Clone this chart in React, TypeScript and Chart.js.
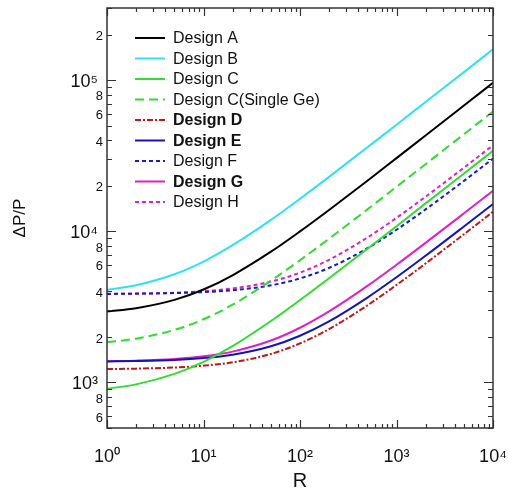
import React, { useEffect, useRef } from 'react';
import { Chart, registerables } from 'chart.js';

Chart.register(...registerables);

// R values (x) sampled along each curve
const R = [1, 2, 5, 10, 20, 50, 100, 200, 500, 1000, 2000, 5000, 10000];

// ΔP/P values
const designA = [2950, 3100, 3520, 4120, 5120, 7330, 9990, 13850, 21600, 30500, 43000, 67900, 96000];
const designB = [4100, 4400, 5200, 6310, 8090, 11900, 16400, 22900, 36000, 50700, 71700, 113000, 160000];
const designC = [910, 972, 1140, 1370, 1740, 2550, 3510, 4890, 7660, 10800, 15300, 24100, 34100];
const designCSingle = [1850, 1950, 2230, 2620, 3270, 4720, 6440, 8940, 13970, 19700, 27800, 43900, 62000];
const designD = [1227, 1235, 1256, 1292, 1359, 1545, 1813, 2256, 3240, 4415, 6120, 9565, 13470];
const designE = [1378, 1387, 1411, 1451, 1527, 1737, 2039, 2537, 3644, 4968, 6891, 10770, 15160];
const designF = [3850, 3870, 3905, 3962, 4074, 4393, 4879, 5727, 7730, 10240, 13960, 21560, 30250];
const designG = [1382, 1395, 1431, 1490, 1600, 1894, 2302, 2952, 4356, 6006, 8383, 13150, 18550];
const designH = [3860, 3872, 3920, 4020, 4190, 4650, 5330, 6480, 9100, 12280, 16940, 26360, 37080];

const seriesLabels = ['Design A', 'Design B', 'Design C', 'Design C(Single Ge)', 'Design D', 'Design E', 'Design F', 'Design G', 'Design H'];
const seriesBold = [false, false, false, false, true, true, false, true, false];

const xTickValues = [1, 10, 100, 1000, 10000];
const xTickLabels = ['10⁰', '10¹', '10²', '10³', '10⁴'];
const yTickValues = [600, 800, 1000, 2000, 4000, 6000, 8000, 10000, 20000, 40000, 60000, 80000, 100000, 200000];
const yTickLabels = ['6', '8', '10³ ', '2', '4', '6', '8', '10⁴ ', '2', '4', '6', '8', '10⁵ ', '2'];

const FAMILY = '"Liberation Sans", Arial, Helvetica, sans-serif';

export default function App() {
  const ref = useRef<HTMLCanvasElement>(null);

  useEffect(() => {
    const canvas = ref.current;
    if (!canvas) return;

    const styles = [
      { color: '#000000', dash: [] as number[] },
      { color: '#30E2F0', dash: [] },
      { color: '#30DC30', dash: [] },
      { color: '#30DC30', dash: [9, 5] },
      { color: '#C01818', dash: [6, 2, 2, 2] },
      { color: '#1414B8', dash: [] },
      { color: '#1A1AC8', dash: [4, 3] },
      { color: '#E020C0', dash: [] },
      { color: '#E020C0', dash: [4, 3] },
    ];
    const values = [designA, designB, designC, designCSingle, designD, designE, designF, designG, designH];

    const datasets = values.map((vals, i) => ({
      label: seriesLabels[i],
      data: R.map((r, j) => ({ x: r, y: vals[j] })),
      borderColor: styles[i].color,
      backgroundColor: styles[i].color,
      borderDash: styles[i].dash,
      borderWidth: 2,
      pointRadius: 0,
      fill: false,
      cubicInterpolationMode: 'monotone' as const,
    }));

    const framePlugin = {
      id: 'frameTicksLegend',
      afterDraw(chart: any) {
        const { ctx, chartArea: a, scales } = chart;
        const xs = scales.x;
        const ys = scales.y;
        ctx.save();
        // box
        ctx.strokeStyle = '#333333';
        ctx.lineWidth = 1.5;
        ctx.setLineDash([]);
        ctx.strokeRect(a.left, a.top, a.right - a.left, a.bottom - a.top);
        // ticks (inward, mirrored)
        ctx.lineWidth = 1.2;
        ctx.beginPath();
        for (let e = 0; e <= 4; e++) {
          for (let m = 1; m <= 9; m++) {
            const v = m * Math.pow(10, e);
            if (v > 10000) break;
            const px = Math.round(xs.getPixelForValue(v)) + 0.5;
            const len = m === 1 ? 8 : 4;
            ctx.moveTo(px, a.bottom);
            ctx.lineTo(px, a.bottom - len);
            ctx.moveTo(px, a.top);
            ctx.lineTo(px, a.top + len);
          }
        }
        for (let e = 2; e <= 5; e++) {
          for (let m = 1; m <= 9; m++) {
            const v = m * Math.pow(10, e);
            if (v < 500 || v > 300000) continue;
            const py = Math.round(ys.getPixelForValue(v)) + 0.5;
            const len = m === 1 ? 9 : 5;
            ctx.moveTo(a.left, py);
            ctx.lineTo(a.left + len, py);
            ctx.moveTo(a.right, py);
            ctx.lineTo(a.right - len, py);
          }
        }
        ctx.stroke();

        // legend
        const x0 = a.left + 28;
        const lineLen = 30;
        const y0 = a.top + 30;
        const step = 20.5;
        chart.data.datasets.forEach((ds: any, i: number) => {
          const y = y0 + i * step;
          ctx.strokeStyle = ds.borderColor;
          ctx.lineWidth = 2;
          ctx.setLineDash(ds.borderDash || []);
          ctx.beginPath();
          ctx.moveTo(x0, y);
          ctx.lineTo(x0 + lineLen, y);
          ctx.stroke();
          ctx.setLineDash([]);
          ctx.fillStyle = '#111111';
          ctx.font = (seriesBold[i] ? 'bold ' : '') + '16px ' + FAMILY;
          ctx.textBaseline = 'middle';
          ctx.textAlign = 'left';
          ctx.fillText(ds.label, x0 + lineLen + 8, y + 1);
        });
        ctx.restore();
      },
    };

    const chart = new Chart(canvas, {
      type: 'line',
      data: { datasets },
      options: {
        animation: false,
        responsive: false,
        devicePixelRatio: 1,
        layout: { padding: { top: 8, right: 16, left: 0, bottom: 0 } },
        plugins: { legend: { display: false }, tooltip: { enabled: false } },
        scales: {
          x: {
            type: 'logarithmic',
            position: 'bottom',
            min: 1,
            max: 10000,
            grid: { display: false, drawTicks: false },
            border: { display: false },
            afterBuildTicks: (s: any) => {
              s.ticks = xTickValues.map((v) => ({ value: v }));
            },
            afterFit: (s: any) => {
              s.height = 65;
              s.paddingLeft = 0;
              s.paddingRight = 0;
            },
            ticks: {
              autoSkip: false,
              maxRotation: 0,
              minRotation: 0,
              padding: 18,
              color: '#111111',
              font: { size: 18, family: FAMILY },
              callback: (_v: any, i: number) => xTickLabels[i],
            },
            title: {
              display: true,
              text: 'R',
              color: '#111111',
              font: { size: 20, family: FAMILY },
              padding: { top: 0, bottom: 0 },
            },
          },
          y: {
            type: 'logarithmic',
            position: 'left',
            min: 500,
            max: 300000,
            grid: { display: false, drawTicks: false },
            border: { display: false },
            afterBuildTicks: (s: any) => {
              s.ticks = yTickValues.map((v) => ({ value: v }));
            },
            afterFit: (s: any) => {
              s.width = 107;
              s.paddingTop = 0;
              s.paddingBottom = 0;
            },
            ticks: {
              autoSkip: false,
              padding: 4,
              labelOffset: 2,
              color: '#111111',
              font: (c: any) => {
                const v = c.tick ? c.tick.value : 0;
                const lg = Math.log10(v);
                const major = Math.abs(lg - Math.round(lg)) < 1e-9;
                return { size: major ? 18 : 13, family: FAMILY };
              },
              callback: (_v: any, i: number) => yTickLabels[i],
            },
            title: {
              display: true,
              text: 'ΔP/P',
              color: '#111111',
              font: { size: 17, family: FAMILY },
              padding: { top: 10, bottom: 0 },
            },
          },
        },
      },
      plugins: [framePlugin],
    });

    return () => {
      chart.destroy();
    };
  }, []);

  return (
    <div style={{ position: 'fixed', left: 0, top: 0, width: 509, height: 493, background: '#ffffff' }}>
      <canvas ref={ref} width={509} height={493} style={{ display: 'block' }} />
    </div>
  );
}
